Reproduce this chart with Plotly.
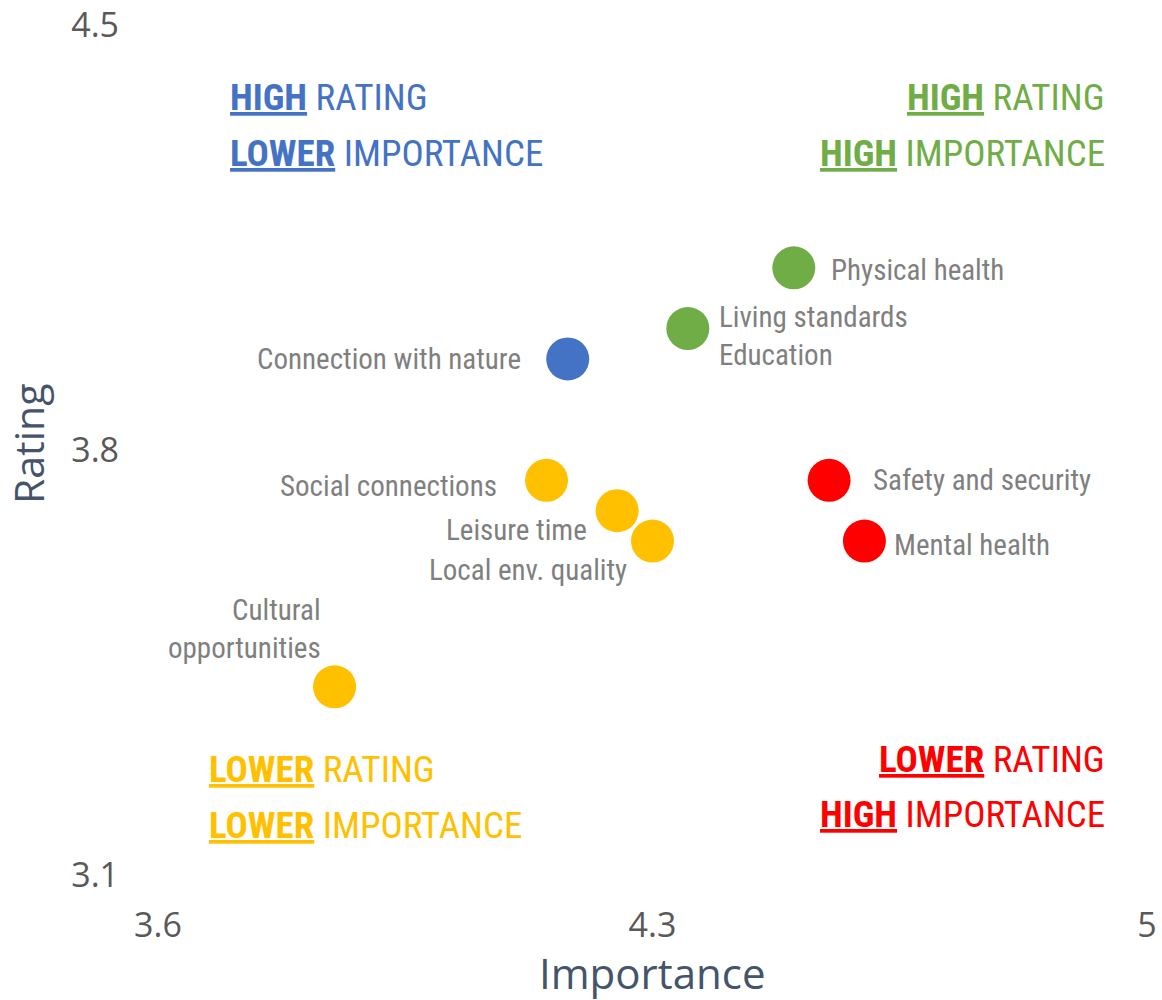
import plotly.graph_objects as go

# Wellbeing domains: importance (x) vs rating (y)
domains = ["Physical health", "Living standards<br>Education", "Connection with nature",
           "Social connections", "Leisure time", "Local env. quality",
           "Cultural<br>opportunities", "Safety and security", "Mental health"]
importance = [4.50, 4.35, 4.18, 4.15, 4.25, 4.30, 3.85, 4.55, 4.60]
rating = [4.10, 4.00, 3.95, 3.75, 3.70, 3.65, 3.41, 3.75, 3.65]
quadrant = ["HH", "HH", "HL", "LL", "LL", "LL", "LL", "LH", "LH"]

x_ticks = [3.6, 4.3, 5]
y_ticks = [3.1, 3.8, 4.5]

colours = {"HH": "#70AD47", "HL": "#4472C4", "LL": "#FFC000", "LH": "#FF0000"}

label_font = "Roboto Condensed, DejaVu Sans Condensed, Liberation Sans Narrow, sans-serif"

# label placement per point: (xanchor, yanchor, xshift, yshift)
label_pos = [
    ("left", "middle", 35, -2),
    ("left", "top", 29, 31),
    ("right", "middle", -45, 0),
    ("right", "middle", -48, -6),
    ("right", "middle", -28, -19),
    ("right", "middle", -24, -29),
    ("right", "bottom", -12, 20),
    ("left", "middle", 42, 0),
    ("left", "middle", 28, -4),
]

fig = go.Figure()
fig.add_trace(go.Scatter(
    x=importance,
    y=rating,
    mode="markers",
    marker=dict(size=43, color=[colours[q] for q in quadrant], line=dict(width=0)),
    hovertext=domains,
    showlegend=False,
))

for name, xv, yv, pos in zip(domains, importance, rating, label_pos):
    fig.add_annotation(
        x=xv, y=yv, text=name, showarrow=False,
        xanchor=pos[0], yanchor=pos[1], xshift=pos[2], yshift=pos[3],
        align=pos[0],
        font=dict(family=label_font, size=29, color="#7F7F7F"),
    )

# quadrant labels (one line per annotation)
quad_lines = [
    ("<u><b>HIGH</b></u> RATING", 3.699, 4.38, "left", "#4472C4"),
    ("<u><b>LOWER</b></u> IMPORTANCE", 3.699, 4.288, "left", "#4472C4"),
    ("<u><b>HIGH</b></u> RATING", 4.944, 4.38, "right", "#70AD47"),
    ("<u><b>HIGH</b></u> IMPORTANCE", 4.944, 4.288, "right", "#70AD47"),
    ("<u><b>LOWER</b></u> RATING", 3.669, 3.273, "left", "#FFC000"),
    ("<u><b>LOWER</b></u> IMPORTANCE", 3.669, 3.181, "left", "#FFC000"),
    ("<u><b>LOWER</b></u> RATING", 4.944, 3.291, "right", "#FF0000"),
    ("<u><b>HIGH</b></u> IMPORTANCE", 4.944, 3.200, "right", "#FF0000"),
]
for text, xv, yv, anchor, col in quad_lines:
    fig.add_annotation(
        x=xv, y=yv, text=text, showarrow=False, xanchor=anchor, yanchor="middle",
        font=dict(family=label_font, size=37, color=col),
    )

# axis titles as annotations for exact placement
fig.add_annotation(
    xref="paper", yref="paper", x=0.5, y=0, yshift=-97, text="Importance",
    showarrow=False, xanchor="center", yanchor="middle", borderpad=0,
    font=dict(family="Open Sans, sans-serif", size=42, color="#44546A"),
)
fig.add_annotation(
    xref="paper", yref="paper", x=0, y=0.507, xshift=-130, text="Rating",
    showarrow=False, textangle=-90, xanchor="center", yanchor="middle", borderpad=0,
    font=dict(family="Open Sans, sans-serif", size=41, color="#44546A"),
)

fig.update_layout(
    width=1162,
    height=1000,
    margin=dict(l=158, r=15, t=25, b=125),
    plot_bgcolor="white",
    paper_bgcolor="white",
    font=dict(family="Open Sans, sans-serif"),
    xaxis=dict(
        range=[3.6, 5], tickvals=x_ticks, ticktext=[str(v) for v in x_ticks],
        showgrid=False, zeroline=False, showline=False, ticks="",
        tickfont=dict(size=34, color="#595959"), ticklabelstandoff=27,
        automargin=False,
    ),
    yaxis=dict(
        range=[3.1, 4.5], tickvals=y_ticks, ticktext=[str(v) for v in y_ticks],
        showgrid=False, zeroline=False, showline=False, ticks="",
        tickfont=dict(size=34, color="#595959"), ticklabelstandoff=38,
        automargin=False,
    ),
)

fig.write_html("out.html", config={"displayModeBar": False},
               post_script="document.body.style.margin='0';")
